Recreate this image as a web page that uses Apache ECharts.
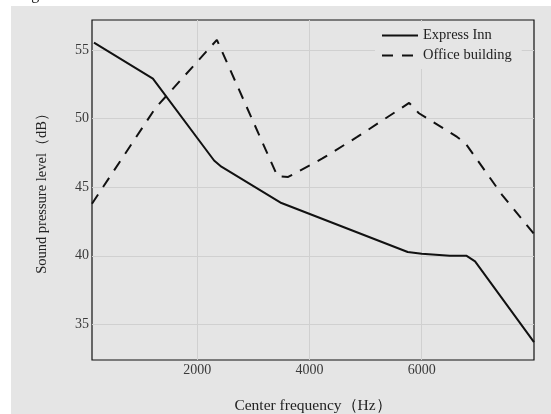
<!DOCTYPE html>
<html>
<head>
<meta charset="utf-8">
<script src="https://cdn.jsdelivr.net/npm/echarts@6/dist/echarts.min.js"></script>
<style>
  html, body { margin: 0; padding: 0; background: #fff; }
  #chart { width: 551px; height: 414px; }
</style>
</head>
<body>
<div id="chart"></div>
<script>
// frequency (Hz) / level (dB)
const expressFreq = [160, 1210, 2300, 2430, 3500, 5750, 6000, 6500, 6800, 6950, 8000];
const expressLevel = [55.55, 52.93, 46.95, 46.5, 43.85, 40.28, 40.15, 40.0, 40.0, 39.6, 33.7];
const officeFreq = [125, 1250, 2350, 3430, 3620, 4230, 4850, 5775, 5950, 6630, 6780, 7430, 8000];
const officeLevel = [43.8, 50.75, 55.75, 45.8, 45.75, 47.1, 48.67, 51.15, 50.4, 48.67, 48.2, 44.45, 41.6];
const xTicks = [2000, 4000, 6000];
const yTicks = [35, 40, 45, 50, 55];
const seriesNames = ['Express Inn', 'Office building'];

const serif = '"Liberation Serif", "DejaVu Serif", serif';
const chart = echarts.init(document.getElementById('chart'));

function pairs(xs, ys) {
    return xs.map((x, i) => [x, ys[i]]);
}

const option = {
    backgroundColor: '#fff',
    animation: false,
    graphic: [
        {
            type: 'rect',
            z: -10,
            shape: {x: 11, y: 6, width: 540, height: 408},
            style: {fill: '#e5e5e5'}
        },
        {
            type: 'text',
            x: 18,
            y: 3,
            style: {
                text: 'Figure 3',
                font: '16px ' + serif,
                fill: '#222',
                verticalAlign: 'bottom'
            }
        }
    ],
    grid: {
        left: 92,
        top: 20,
        right: 17,
        bottom: 54,
        outerBoundsMode: 'none',
        show: true,
        borderColor: '#111',
        borderWidth: 1.2,
        backgroundColor: 'transparent'
    },
    legend: {
        data: seriesNames,
        orient: 'vertical',
        left: 375,
        top: 22,
        padding: [6, 10, 6, 6],
        itemGap: 5,
        itemWidth: 36,
        itemHeight: 14,
        backgroundColor: '#e5e5e5',
        itemStyle: {opacity: 0},
        textStyle: {
            fontFamily: serif,
            fontSize: 14.5,
            color: '#222'
        }
    },
    xAxis: {
        type: 'value',
        min: 125,
        max: 8000,
        name: 'Center frequency（Hz）',
        nameLocation: 'middle',
        nameGap: 38,
        nameTextStyle: {fontFamily: serif, fontSize: 15.5, color: '#222'},
        axisLine: {show: false},
        axisTick: {show: false, customValues: xTicks},
        axisLabel: {
            customValues: xTicks,
            formatter: v => String(v),
            fontFamily: serif,
            fontSize: 14,
            color: '#3a3a3a',
            margin: 3
        },
        splitLine: {lineStyle: {color: '#d0d0d0', width: 1}}
    },
    yAxis: {
        type: 'value',
        min: 32.4,
        max: 57.2,
        name: 'Sound pressure level（dB）',
        nameLocation: 'middle',
        nameGap: 42,
        nameTextStyle: {fontFamily: serif, fontSize: 14.5, color: '#222'},
        axisLine: {show: false},
        axisTick: {show: false, customValues: yTicks},
        axisLabel: {
            customValues: yTicks,
            formatter: v => String(v),
            fontFamily: serif,
            fontSize: 14,
            color: '#3a3a3a',
            margin: 3
        },
        splitLine: {lineStyle: {color: '#d0d0d0', width: 1}}
    },
    series: [
        {
            name: seriesNames[0],
            type: 'line',
            data: pairs(expressFreq, expressLevel),
            symbol: 'none',
            lineStyle: {color: '#111', width: 2},
            itemStyle: {color: '#111'}
        },
        {
            name: seriesNames[1],
            type: 'line',
            data: pairs(officeFreq, officeLevel),
            symbol: 'none',
            lineStyle: {color: '#111', width: 2, type: [11, 9]},
            itemStyle: {color: '#111'}
        }
    ]
};

chart.setOption(option);
</script>
</body>
</html>
